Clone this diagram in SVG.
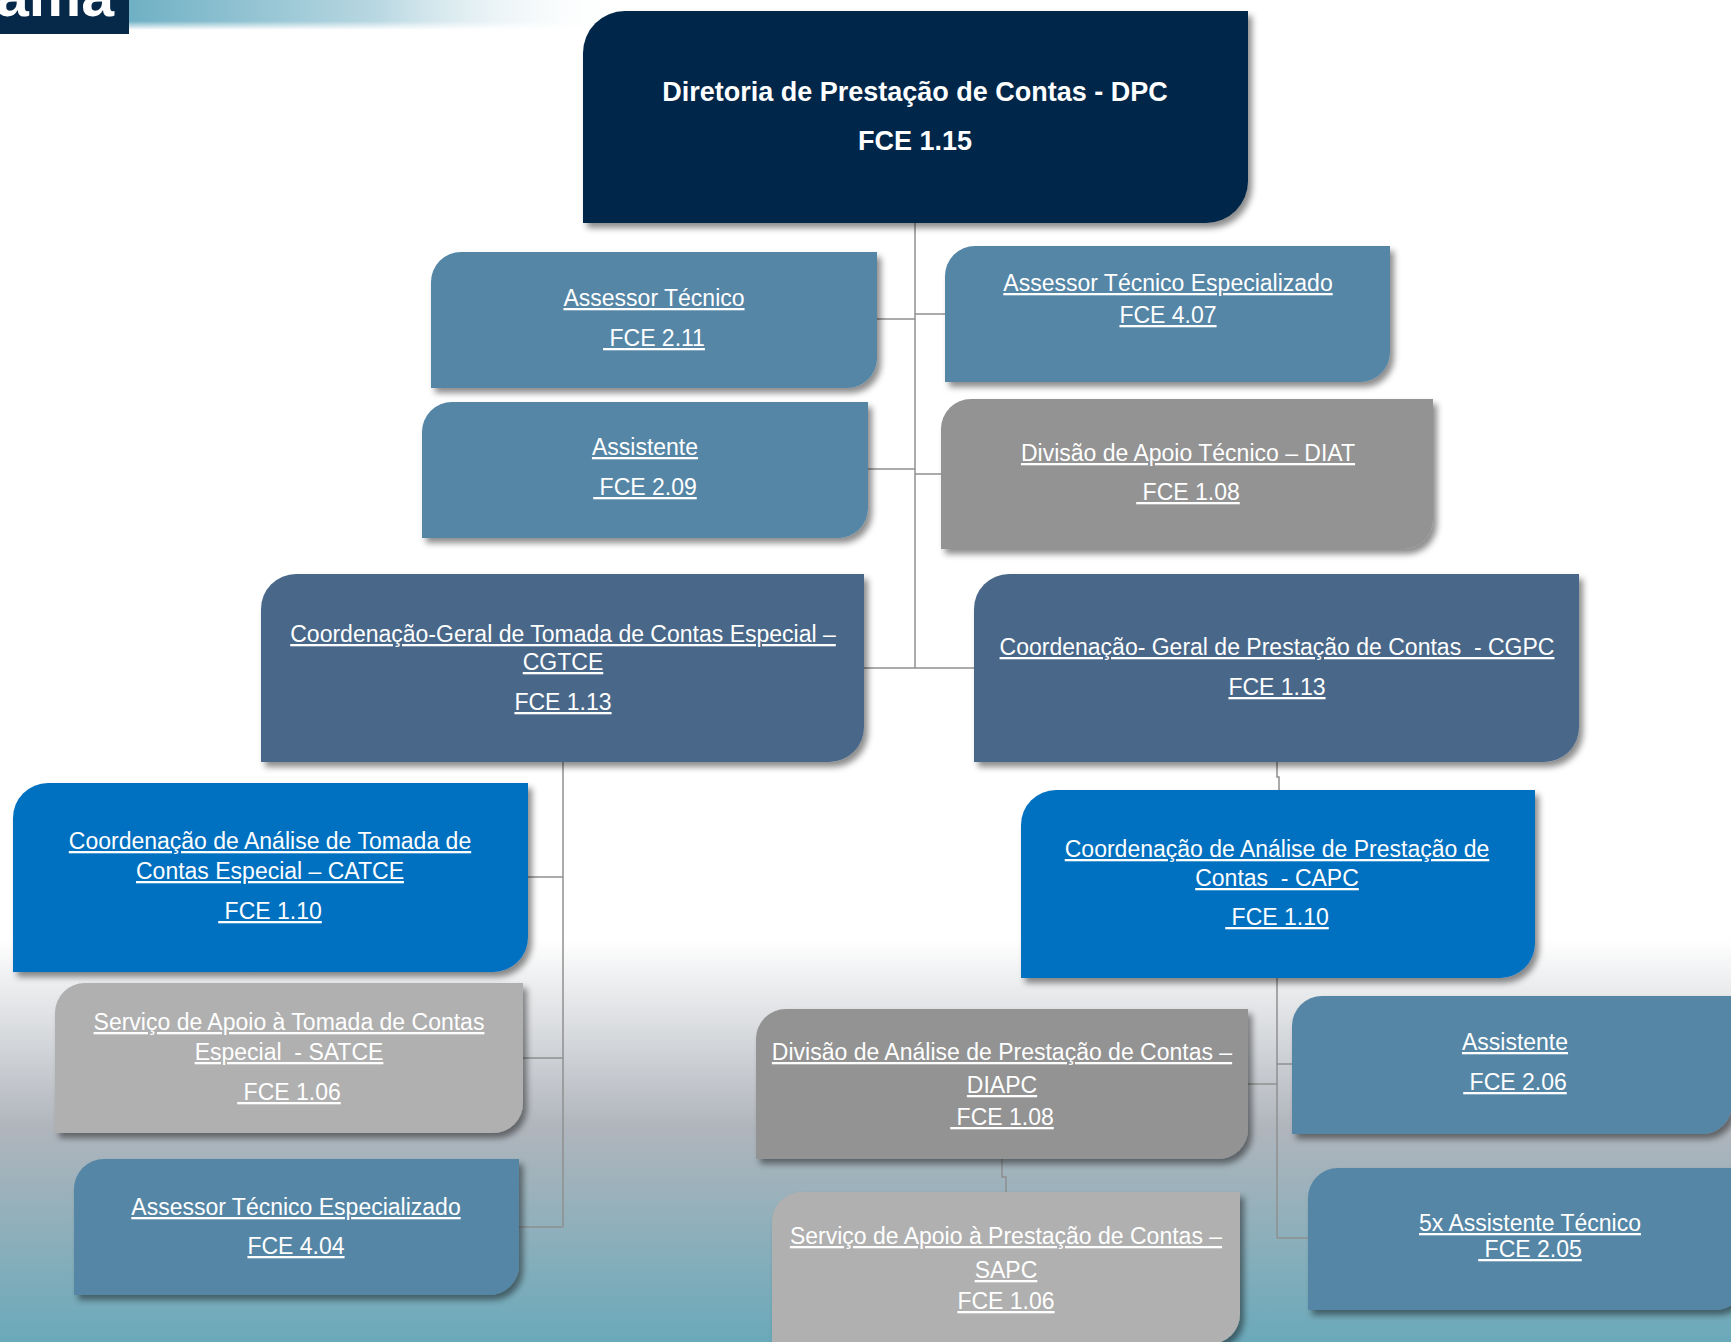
<svg xmlns="http://www.w3.org/2000/svg" width="1731" height="1342" viewBox="0 0 1731 1342">
<defs>
<linearGradient id="bg" x1="0" y1="0" x2="0" y2="1342" gradientUnits="userSpaceOnUse">
<stop offset="0" stop-color="#ffffff"/>
<stop offset="0.70" stop-color="#ffffff"/>
<stop offset="0.84" stop-color="#b0b5bc"/>
<stop offset="1" stop-color="#6aa9ba"/>
</linearGradient>
<linearGradient id="band" x1="0" y1="0" x2="1" y2="0">
<stop offset="0" stop-color="#6fb0c4"/>
<stop offset="0.5" stop-color="#b9d8e2"/>
<stop offset="1" stop-color="#ffffff" stop-opacity="0"/>
</linearGradient>
<linearGradient id="bandv" x1="0" y1="0" x2="0" y2="1">
<stop offset="0" stop-color="#ffffff" stop-opacity="0"/>
<stop offset="0.7" stop-color="#ffffff" stop-opacity="0"/>
<stop offset="1" stop-color="#ffffff" stop-opacity="1"/>
</linearGradient>
<filter id="sh" x="-5%" y="-5%" width="115%" height="120%">
<feDropShadow dx="4" dy="5" stdDeviation="3" flood-color="#000" flood-opacity="0.45"/>
</filter>
</defs>
<style>
.lbl{font-family:"Liberation Sans",Arial,sans-serif;font-size:23px;fill:#ffffff;text-anchor:middle;text-decoration:underline;white-space:pre}
.ttl{font-family:"Liberation Sans",Arial,sans-serif;font-size:27px;font-weight:bold;fill:#ffffff;text-anchor:middle}
.con{fill:none;stroke:#8f8f8f;stroke-width:1.5}
.navy{fill:#062849}
.steel{fill:#5586a6}
.slate{fill:#4a6889}
.blue{fill:#0070c0}
.gray{fill:#939393}
.lgray{fill:#b0b0b0}
.box{filter:url(#sh)}
</style>
<rect x="0" y="0" width="1731" height="1342" fill="url(#bg)"/>
<g id="header">
<rect x="129" y="0" width="500" height="30" fill="url(#band)"/>
<rect x="129" y="0" width="500" height="30" fill="url(#bandv)"/>
<rect x="0" y="0" width="129" height="34" fill="#062849"/>
<text x="-4" y="16" font-family="'Liberation Sans',Arial,sans-serif" font-size="59" font-weight="bold" fill="#ffffff">ama</text>
</g>
<g id="connectors">
<path class="con" d="M915,223 V668"/>
<path class="con" d="M877,319 H915"/>
<path class="con" d="M915,314 H945"/>
<path class="con" d="M868,469 H915"/>
<path class="con" d="M915,474 H941"/>
<path class="con" d="M864,668 H974"/>
<path class="con" d="M563,762 V1227"/>
<path class="con" d="M528,877 H563"/>
<path class="con" d="M523,1058 H563"/>
<path class="con" d="M519,1227 H563"/>
<path class="con" d="M1277,762 V777 H1279 V790"/>
<path class="con" d="M1277,978 V1238"/>
<path class="con" d="M1277,1064 H1292"/>
<path class="con" d="M1248,1084 H1277"/>
<path class="con" d="M1277,1238 H1308"/>
<path class="con" d="M1002,1159 V1177 H1006 V1192"/>
</g>
<g id="dpc">
<path class="navy box" d="M583,53 A42,42 0 0 1 625,11 H1248 V181 A42,42 0 0 1 1206,223 H583 Z"/>
<text class="ttl" x="915" y="101">Diretoria de Prestação de Contas - DPC</text>
<text class="ttl" x="915" y="150">FCE 1.15</text>
</g>
<g id="assessor-tecnico">
<path class="steel box" d="M431,282 A30,30 0 0 1 461,252 H877 V358 A30,30 0 0 1 847,388 H431 Z"/>
<text class="lbl" x="654" y="306">Assessor Técnico</text>
<text class="lbl" x="654" y="346" xml:space="preserve"> FCE 2.11</text>
</g>
<g id="assessor-tecnico-especializado-407">
<path class="steel box" d="M945,276 A30,30 0 0 1 975,246 H1390 V352 A30,30 0 0 1 1360,382 H945 Z"/>
<text class="lbl" x="1168" y="291">Assessor Técnico Especializado</text>
<text class="lbl" x="1168" y="323">FCE 4.07</text>
</g>
<g id="assistente-209">
<path class="steel box" d="M422,432 A30,30 0 0 1 452,402 H868 V508 A30,30 0 0 1 838,538 H422 Z"/>
<text class="lbl" x="645" y="455">Assistente</text>
<text class="lbl" x="645" y="495" xml:space="preserve"> FCE 2.09</text>
</g>
<g id="diat">
<path class="gray box" d="M941,429 A30,30 0 0 1 971,399 H1433 V519 A30,30 0 0 1 1403,549 H941 Z"/>
<text class="lbl" x="1188" y="461">Divisão de Apoio Técnico – DIAT</text>
<text class="lbl" x="1188" y="500" xml:space="preserve"> FCE 1.08</text>
</g>
<g id="cgtce">
<path class="slate box" d="M261,609 A35,35 0 0 1 296,574 H864 V727 A35,35 0 0 1 829,762 H261 Z"/>
<text class="lbl" x="563" y="642">Coordenação-Geral de Tomada de Contas Especial –</text>
<text class="lbl" x="563" y="670">CGTCE</text>
<text class="lbl" x="563" y="710">FCE 1.13</text>
</g>
<g id="cgpc">
<path class="slate box" d="M974,609 A35,35 0 0 1 1009,574 H1579 V727 A35,35 0 0 1 1544,762 H974 Z"/>
<text class="lbl" x="1277" y="655" xml:space="preserve">Coordenação- Geral de Prestação de Contas  - CGPC</text>
<text class="lbl" x="1277" y="695">FCE 1.13</text>
</g>
<g id="catce">
<path class="blue box" d="M13,818 A35,35 0 0 1 48,783 H528 V937 A35,35 0 0 1 493,972 H13 Z"/>
<text class="lbl" x="270" y="849">Coordenação de Análise de Tomada de</text>
<text class="lbl" x="270" y="879">Contas Especial – CATCE</text>
<text class="lbl" x="270" y="919" xml:space="preserve"> FCE 1.10</text>
</g>
<g id="capc">
<path class="blue box" d="M1021,825 A35,35 0 0 1 1056,790 H1535 V943 A35,35 0 0 1 1500,978 H1021 Z"/>
<text class="lbl" x="1277" y="857">Coordenação de Análise de Prestação de</text>
<text class="lbl" x="1277" y="886" xml:space="preserve">Contas  - CAPC</text>
<text class="lbl" x="1277" y="925" xml:space="preserve"> FCE 1.10</text>
</g>
<g id="satce">
<path class="lgray box" d="M55,1013 A30,30 0 0 1 85,983 H523 V1103 A30,30 0 0 1 493,1133 H55 Z"/>
<text class="lbl" x="289" y="1030">Serviço de Apoio à Tomada de Contas</text>
<text class="lbl" x="289" y="1060" xml:space="preserve">Especial  - SATCE</text>
<text class="lbl" x="289" y="1100" xml:space="preserve"> FCE 1.06</text>
</g>
<g id="assessor-tecnico-especializado-404">
<path class="steel box" d="M74,1189 A30,30 0 0 1 104,1159 H519 V1265 A30,30 0 0 1 489,1295 H74 Z"/>
<text class="lbl" x="296" y="1215">Assessor Técnico Especializado</text>
<text class="lbl" x="296" y="1254">FCE 4.04</text>
</g>
<g id="diapc">
<path class="gray box" d="M756,1039 A30,30 0 0 1 786,1009 H1248 V1129 A30,30 0 0 1 1218,1159 H756 Z"/>
<text class="lbl" x="1002" y="1060">Divisão de Análise de Prestação de Contas –</text>
<text class="lbl" x="1002" y="1093">DIAPC</text>
<text class="lbl" x="1002" y="1125" xml:space="preserve"> FCE 1.08</text>
</g>
<g id="sapc">
<path class="lgray box" d="M772,1222 A30,30 0 0 1 802,1192 H1240 V1314 A30,30 0 0 1 1210,1344 H772 Z"/>
<text class="lbl" x="1006" y="1244">Serviço de Apoio à Prestação de Contas –</text>
<text class="lbl" x="1006" y="1278">SAPC</text>
<text class="lbl" x="1006" y="1309">FCE 1.06</text>
</g>
<g id="assistente-206">
<path class="steel box" d="M1292,1026 A30,30 0 0 1 1322,996 H1732 V1104 A30,30 0 0 1 1702,1134 H1292 Z"/>
<text class="lbl" x="1515" y="1050">Assistente</text>
<text class="lbl" x="1515" y="1090" xml:space="preserve"> FCE 2.06</text>
</g>
<g id="assistente-tecnico-205">
<path class="steel box" d="M1308,1198 A30,30 0 0 1 1338,1168 H1745 V1280 A30,30 0 0 1 1715,1310 H1308 Z"/>
<text class="lbl" x="1530" y="1231">5x Assistente Técnico</text>
<text class="lbl" x="1530" y="1257" xml:space="preserve"> FCE 2.05</text>
</g>
</svg>
